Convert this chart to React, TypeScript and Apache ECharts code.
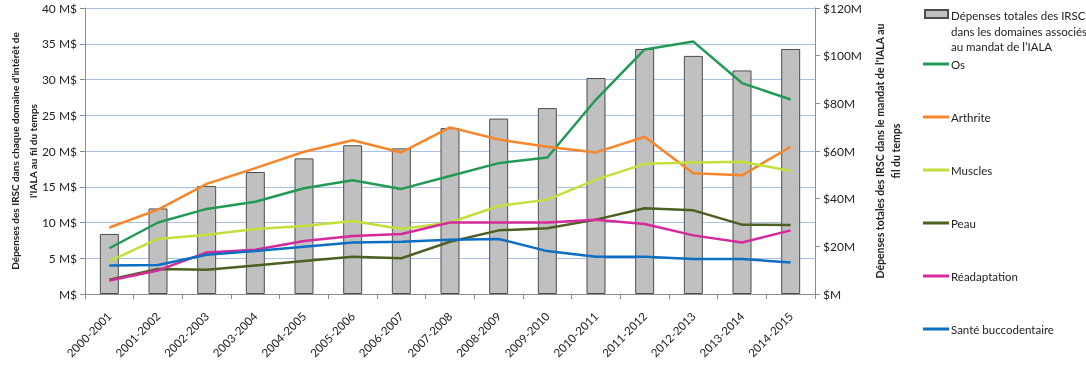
import React, { useEffect, useRef } from "react";
import * as echarts from "echarts";

const categories = [
  "2000-2001", "2001-2002", "2002-2003", "2003-2004", "2004-2005",
  "2005-2006", "2006-2007", "2007-2008", "2008-2009", "2009-2010",
  "2010-2011", "2011-2012", "2012-2013", "2013-2014", "2014-2015",
];

// Total spending ($M, right axis)
const totals = [25.2, 35.9, 45.3, 51.2, 56.9, 62.4, 61.1, 69.6, 73.6, 78.0, 90.6, 102.8, 99.9, 93.8, 102.8];

// Per-domain spending (M$, left axis)
const os = [6.4, 10.0, 11.9, 12.9, 14.8, 15.9, 14.7, 16.5, 18.3, 19.1, 27.2, 34.2, 35.3, 29.5, 27.2];
const arthrite = [9.3, 11.8, 15.4, 17.6, 19.9, 21.5, 19.8, 23.3, 21.6, 20.6, 19.8, 22.0, 16.9, 16.6, 20.6];
const muscles = [4.6, 7.7, 8.3, 9.1, 9.5, 10.2, 9.1, 10.0, 12.3, 13.2, 16.0, 18.2, 18.4, 18.5, 17.2];
const peau = [2.0, 3.5, 3.4, 4.0, 4.6, 5.2, 5.0, 7.3, 8.9, 9.2, 10.4, 12.0, 11.7, 9.7, 9.65];
const readaptation = [1.9, 3.3, 5.8, 6.2, 7.4, 8.1, 8.4, 10.0, 10.0, 10.0, 10.4, 9.8, 8.2, 7.2, 8.9];
const sante = [4.0, 4.05, 5.5, 6.0, 6.6, 7.2, 7.3, 7.6, 7.7, 6.0, 5.2, 5.2, 4.9, 4.9, 4.4];

const barName = "Dépenses totales des IRSC\ndans les domaines associés\nau mandat de l’IALA";

const lineSeries = [
  { name: "Os", data: os, color: "#229a55" },
  { name: "Arthrite", data: arthrite, color: "#f7862a" },
  { name: "Muscles", data: muscles, color: "#c2e03a" },
  { name: "Peau", data: peau, color: "#4c6021" },
  { name: "Réadaptation", data: readaptation, color: "#d42a9c" },
  { name: "Santé buccodentaire", data: sante, color: "#0c6fc4" },
];

const FONT = "Lato";

export default function App() {
  const ref = useRef<HTMLDivElement>(null);
  useEffect(() => {
    if (!ref.current) return;
    const chart = echarts.init(ref.current, undefined, { renderer: "svg" });
    const option: any = {
      animation: false,
      textStyle: { fontFamily: FONT },
      grid: {
        left: 85,
        right: 271,
        top: 8,
        bottom: 77,
        containLabel: false,
        outerBoundsMode: "none",
      },
      legend: [
        {
          data: [
            {
              name: barName,
              icon: "path://M0,0 L0.01,0 M0,2 L23,2 L23,10 L0,10 Z M0,46 L0.01,46",
            },
          ],
          orient: "vertical",
          left: 924,
          top: 7,
          padding: 0,
          itemWidth: 23,
          itemHeight: 46,
          itemGap: 0,
          textStyle: { fontFamily: FONT, fontSize: 11.5, color: "#222", lineHeight: 15.5, padding: [0, 0, 0, -2] },
        },
        {
          data: lineSeries.map((s) => ({
            name: s.name,
            icon: "path://M0,0 L26,0 L26,3 L0,3 Z",
          })),
          orient: "vertical",
          left: 923,
          top: 58,
          padding: 0,
          itemWidth: 26,
          itemHeight: 3,
          itemGap: 41,
          textStyle: { fontFamily: FONT, fontSize: 11.5, color: "#222", padding: [0, 0, 0, -3] },
        },
      ],
      xAxis: {
        type: "category",
        data: categories,
        boundaryGap: true,
        axisLine: { lineStyle: { color: "#8c8c8c", width: 1 } },
        axisTick: { show: true, length: 5, lineStyle: { color: "#8c8c8c" } },
        axisLabel: {
          rotate: 45,
          fontFamily: FONT,
          fontSize: 11.5,
          color: "#222",
          margin: 20,
          padding: [8, 0, 0, 0],
        },
      },
      yAxis: [
        {
          type: "value",
          min: 0,
          max: 40,
          interval: 5,
          position: "left",
          name: "Dépenses des IRSC dans chaque domaine d'intérêt de\nl'IALA au fil du temps",
          nameLocation: "middle",
          nameGap: 43,
          nameMoveOverlap: false,
          nameTextStyle: { fontFamily: FONT, fontSize: 10, fontWeight: "bold", color: "#222", lineHeight: 18 },
          axisLine: { show: true, lineStyle: { color: "#8c8c8c" } },
          axisTick: { show: true, length: 5, lineStyle: { color: "#8c8c8c" } },
          axisLabel: {
            fontFamily: FONT,
            fontSize: 12,
            color: "#222",
            margin: 8,
            formatter: (v: number) => (v === 0 ? "M$" : `${v} M$`),
          },
          splitLine: { show: true, lineStyle: { color: "#a9c0e6", width: 1.2 } },
        },
        {
          type: "value",
          min: 0,
          max: 120,
          interval: 20,
          position: "right",
          name: "Dépenses totales des IRSC dans le mandat de l'IALA au\nfil du temps",
          nameLocation: "middle",
          nameGap: 57,
          nameMoveOverlap: false,
          nameTextStyle: { fontFamily: FONT, fontSize: 10.5, fontWeight: "bold", color: "#222", lineHeight: 16 },
          axisLine: { show: true, lineStyle: { color: "#8c8c8c" } },
          axisTick: { show: true, length: 5, lineStyle: { color: "#8c8c8c" } },
          axisLabel: {
            fontFamily: FONT,
            fontSize: 12,
            color: "#222",
            margin: 8,
            formatter: (v: number) => (v === 0 ? "$M" : `$${v}M`),
          },
          splitLine: { show: false },
        },
      ],
      series: [
        {
          name: barName,
          type: "bar",
          yAxisIndex: 1,
          data: totals,
          barWidth: "39%",
          itemStyle: { color: "#c0c0c0", borderColor: "#4d4d4d", borderWidth: 1 },
        },
        ...lineSeries.map((s) => ({
          name: s.name,
          type: "line",
          yAxisIndex: 0,
          data: s.data,
          showSymbol: false,
          symbol: "none",
          lineStyle: { color: s.color, width: 2.5 },
          itemStyle: { color: s.color },
        })),
      ],
    };
    chart.setOption(option);
    return () => chart.dispose();
  }, []);
  return (
    <div
      ref={ref}
      style={{ position: "fixed", left: 0, top: 0, width: 1086, height: 371 }}
    />
  );
}
